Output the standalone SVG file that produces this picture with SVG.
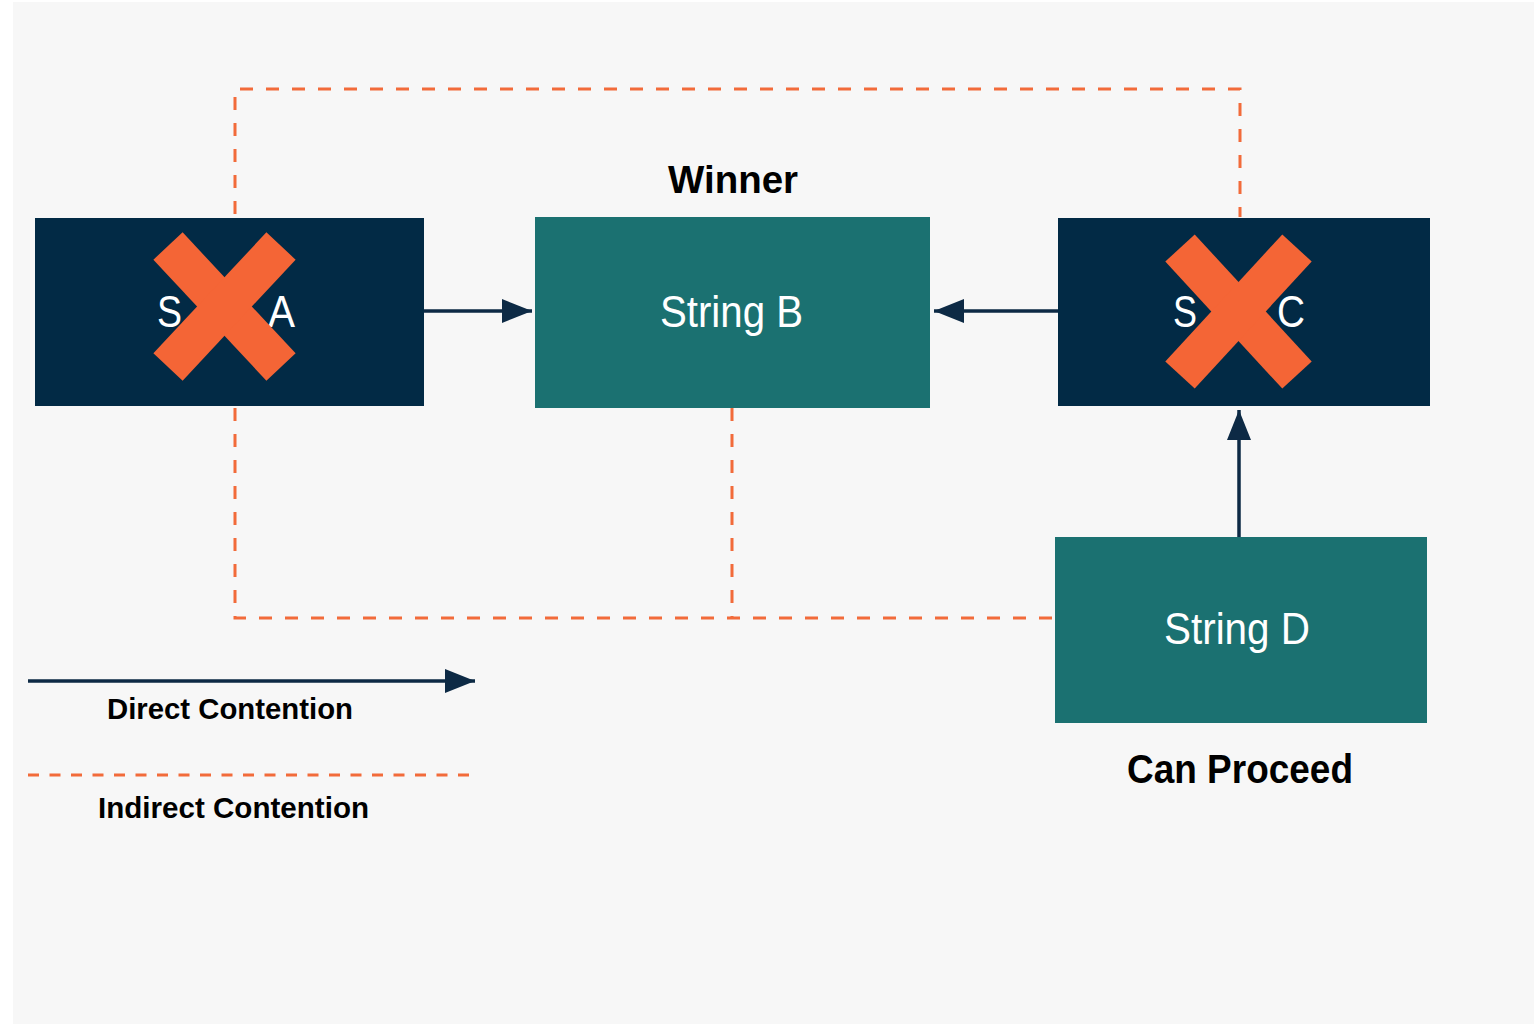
<svg xmlns="http://www.w3.org/2000/svg" width="1534" height="1024" viewBox="0 0 1534 1024">
<defs>
<style>
.dark{fill:#022a45}
.teal{fill:#1b7171}
.cross{stroke:#f46536;stroke-width:40;stroke-linecap:butt}
.lbl{font-family:"Liberation Sans",Arial,sans-serif;fill:#ffffff;font-size:44px}
.cap{font-family:"Liberation Sans",Arial,sans-serif;fill:#000000;font-weight:bold}
.direct{stroke:#0d2a45;stroke-width:3.5;fill:none}
.indirect{stroke:#f26b3a;stroke-width:3;fill:none;stroke-dasharray:13 13}
</style>
<marker id="ahBig" viewBox="0 0 30 24" refX="30" refY="12" markerWidth="30" markerHeight="24" orient="auto" markerUnits="userSpaceOnUse">
<path d="M0,0 L30,12 L0,24 Z" fill="#0d2a45"/>
</marker>
</defs>
<rect x="0" y="0" width="1534" height="1024" fill="#ffffff"/>
<rect x="13" y="2" width="1521" height="1022" fill="#f7f7f7"/>

<g id="connectors">
<path class="indirect" d="M235,214 V89 H1240 V217"/>
<path class="indirect" d="M235,408 V618 H1055"/>
<path class="indirect" d="M732,408 V618"/>
<line class="direct" x1="424" y1="311" x2="532" y2="311" marker-end="url(#ahBig)"/>
<line class="direct" x1="1058" y1="311" x2="934" y2="311" marker-end="url(#ahBig)"/>
<line class="direct" x1="1239" y1="537" x2="1239" y2="410" marker-end="url(#ahBig)"/>
</g>

<g id="stringA">
<rect class="dark" x="35" y="218" width="389" height="188"/>
<text class="lbl" x="157" y="327" textLength="25" lengthAdjust="spacingAndGlyphs">S</text>
<text class="lbl" x="268" y="327" textLength="27" lengthAdjust="spacingAndGlyphs">A</text>
<line class="cross" x1="168" y1="246" x2="281" y2="367"/>
<line class="cross" x1="281" y1="246" x2="168" y2="367"/>
</g>

<g id="stringB">
<text class="cap" x="733" y="193" font-size="39" text-anchor="middle" textLength="130" lengthAdjust="spacingAndGlyphs">Winner</text>
<rect class="teal" x="535" y="217" width="395" height="191"/>
<text class="lbl" x="660" y="327" textLength="143" lengthAdjust="spacingAndGlyphs">String B</text>
</g>

<g id="stringC">
<rect class="dark" x="1058" y="218" width="372" height="188"/>
<text class="lbl" x="1173" y="327" textLength="24" lengthAdjust="spacingAndGlyphs">S</text>
<text class="lbl" x="1277" y="327" textLength="28" lengthAdjust="spacingAndGlyphs">C</text>
<line class="cross" x1="1180" y1="248" x2="1297" y2="375"/>
<line class="cross" x1="1297" y1="248" x2="1180" y2="375"/>
</g>

<g id="stringD">
<rect class="teal" x="1055" y="537" width="372" height="186"/>
<text class="lbl" x="1164" y="644" textLength="146" lengthAdjust="spacingAndGlyphs">String D</text>
<text class="cap" x="1127" y="783" font-size="40" textLength="226" lengthAdjust="spacingAndGlyphs">Can Proceed</text>
</g>

<g id="legend">
<line class="direct" x1="28" y1="681" x2="475" y2="681" marker-end="url(#ahBig)"/>
<text class="cap" x="107" y="719" font-size="30" textLength="246" lengthAdjust="spacingAndGlyphs">Direct Contention</text>
<line x1="28" y1="775" x2="472" y2="775" stroke="#f26b3a" stroke-width="3" stroke-dasharray="11 10.5"/>
<text class="cap" x="98" y="818" font-size="30" textLength="271" lengthAdjust="spacingAndGlyphs">Indirect Contention</text>
</g>
</svg>
